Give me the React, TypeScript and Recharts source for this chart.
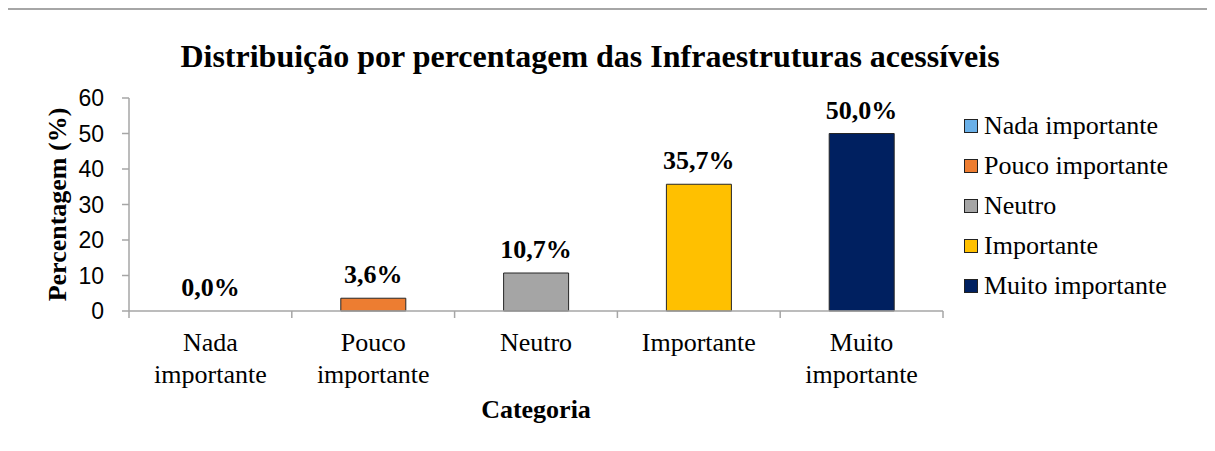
import React from 'react';
import { ComposedChart, Bar, Line, XAxis, YAxis, Cell, LabelList, Legend } from 'recharts';

const categories = ['Nada importante', 'Pouco importante', 'Neutro', 'Importante', 'Muito importante'];
const values = [0.0, 3.6, 10.7, 35.7, 50.0];
const colors = ['#6AB0E8', '#ED7D31', '#A5A5A5', '#FFC000', '#002060'];
const tickLabels = [['Nada', 'importante'], ['Pouco', 'importante'], ['Neutro'], ['Importante'], ['Muito', 'importante']];
const yTicks = [0, 10, 20, 30, 40, 50, 60];
const title = 'Distribuição por percentagem das Infraestruturas acessíveis';
const yTitle = 'Percentagem (%)';
const xTitle = 'Categoria';

const data = categories.map((name, i) => ({ name, value: values[i] }));

const SERIF = "'Liberation Serif', 'Times New Roman', serif";
const SANS = "'Liberation Sans', Arial, sans-serif";
const AXIS = '#a6a6a6';

const fmt = (v: number) => v.toFixed(1).replace('.', ',') + '%';

const CatTick = (props: any) => {
  const { x, y, payload, index, visibleTicksCount, width } = props;
  const half =
    payload && typeof payload.offset === 'number' && payload.offset > 0
      ? payload.offset
      : Number(width) / (visibleTicksCount || categories.length) / 2;
  const lines = tickLabels[index] || [];
  const last = index === categories.length - 1;
  return (
    <g>
      <line x1={x - half} x2={x - half} y1={y} y2={y + 7} stroke={AXIS} strokeWidth={1.5} />
      {last && <line x1={x + half} x2={x + half} y1={y} y2={y + 7} stroke={AXIS} strokeWidth={1.5} />}
      <text x={x} y={y + 40} textAnchor="middle" fontFamily={SERIF} fontSize={26} fill="#000">
        {lines.map((l: string, i: number) => (
          <tspan key={i} x={x} dy={i === 0 ? 0 : 32}>{l}</tspan>
        ))}
      </text>
    </g>
  );
};

const DataLabel = (props: any) => {
  const { x, y, width, value } = props;
  const cx = typeof width === 'number' && width > 0 ? x + width / 2 : x;
  return (
    <text x={cx} y={y - 15} textAnchor="middle" fontFamily={SERIF} fontWeight="bold" fontSize={26} fill="#000">
      {fmt(Number(value))}
    </text>
  );
};

const LegendContent = () => (
  <div style={{ fontFamily: SERIF, fontSize: 26, color: '#000' }}>
    {categories.map((c, i) => (
      <div key={c} style={{ display: 'flex', alignItems: 'center', height: 40, whiteSpace: 'nowrap' }}>
        <span style={{ display: 'inline-block', width: 12, height: 12, background: colors[i], border: '1px solid #222', marginRight: 6 }} />
        <span>{c}</span>
      </div>
    ))}
  </div>
);

export default function App() {
  return (
    <div style={{ position: 'relative', width: 1207, height: 443 }}>
      <div style={{ position: 'absolute', left: -2, top: 0, width: 1300, height: 500, borderTop: '2px solid #a6a6a6', borderLeft: '2px solid #a6a6a6', boxSizing: 'border-box' }} />
      <div style={{ position: 'absolute', left: 0, top: 32, width: 1164, textAlign: 'center', fontFamily: SERIF, fontWeight: 'bold', fontSize: 32, lineHeight: '32px', color: '#000', whiteSpace: 'nowrap' }}>
        {title}
      </div>
      <div style={{ position: 'absolute', left: 0, top: 0 }}>
        <ComposedChart width={1207} height={443} data={data} margin={{ top: 90, right: 272, bottom: 100, left: 61 }}>
          <XAxis
            dataKey="name"
            interval={0}
            tickLine={false}
            tickSize={0}
            tickMargin={0}
            axisLine={{ stroke: AXIS, strokeWidth: 1.5 }}
            height={40}
            tick={<CatTick />}
            label={{
              content: (p: any) => {
                const vb = p.viewBox;
                return (
                  <text x={vb.x + vb.width / 2} y={vb.y + 107} textAnchor="middle" fontFamily={SERIF} fontWeight="bold" fontSize={26} fill="#000">
                    {xTitle}
                  </text>
                );
              },
            }}
          />
          <YAxis
            domain={[0, 60]}
            ticks={yTicks}
            interval={0}
            width={60}
            axisLine={{ stroke: AXIS, strokeWidth: 1.5 }}
            tickLine={{ stroke: AXIS, strokeWidth: 1.5 }}
            tickSize={7}
            tickMargin={18}
            tick={{ fill: '#000', fontSize: 23, fontFamily: SANS }}
            label={{
              content: (p: any) => {
                const vb = p.viewBox;
                const cx = vb.x - 12;
                const cy = vb.y + vb.height / 2;
                return (
                  <text x={cx} y={cy} transform={`rotate(-90 ${cx} ${cy})`} textAnchor="middle" dominantBaseline="central" fontFamily={SERIF} fontWeight="bold" fontSize={26} fill="#000">
                    {yTitle}
                  </text>
                );
              },
            }}
          />
          <Legend
            layout="vertical"
            align="center"
            verticalAlign="middle"
            content={<LegendContent />}
            wrapperStyle={{ left: 956, top: 98, width: 250 }}
          />
          <Bar dataKey="value" barSize={65} stroke="#262626" strokeWidth={1} isAnimationActive={false}>
            {data.map((d, i) => (
              <Cell key={d.name} fill={colors[i]} />
            ))}
          </Bar>
          <Line dataKey="value" stroke="none" strokeWidth={0} dot={false} activeDot={false} legendType="none" isAnimationActive={false}>
            <LabelList dataKey="value" content={<DataLabel />} />
          </Line>
        </ComposedChart>
      </div>
    </div>
  );
}
